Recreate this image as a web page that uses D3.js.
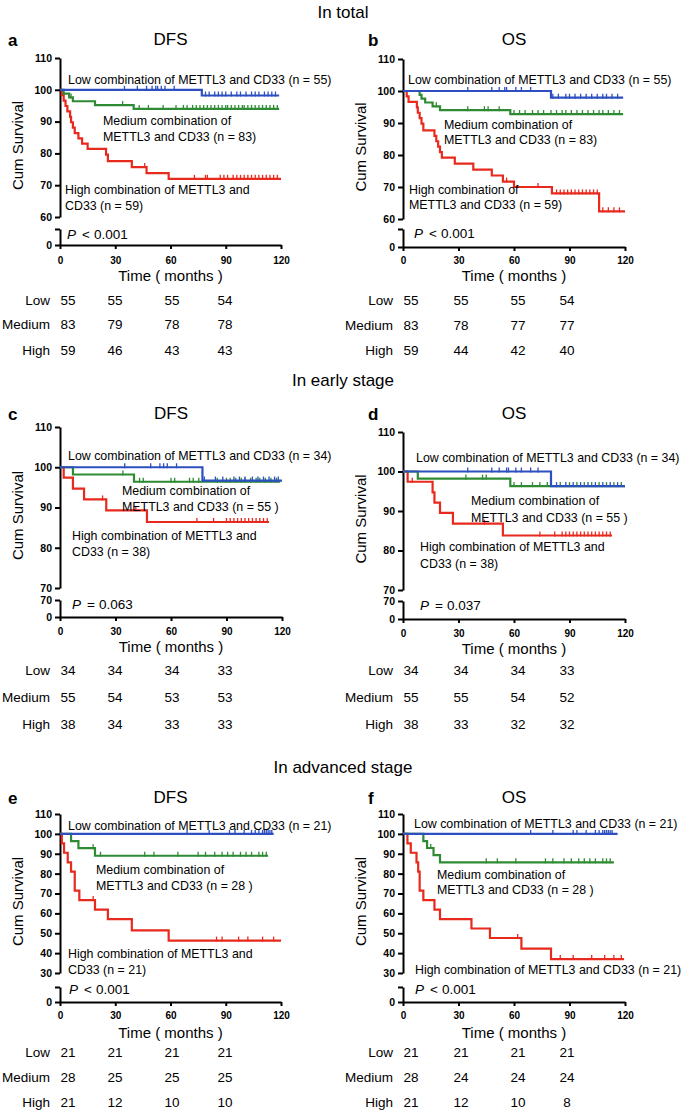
<!DOCTYPE html>
<html><head><meta charset="utf-8">
<script src="https://cdn.jsdelivr.net/npm/d3@7"></script>
<style>
body{margin:0;background:#fff}
svg{display:block}
text{font-family:"Liberation Sans",Arial,Helvetica,sans-serif;fill:#000}
</style>
</head><body>
<svg id="chart" width="685" height="1113"></svg>
<script>
// ---------------- DATA ----------------
const groups = ["Low", "Medium", "High"];
const xTickValues = [0, 30, 60, 90, 120];
const riskTimes = [0, 30, 60, 90];
const sectionTitles = ["In total", "In early stage", "In advanced stage"];
const panelLetters = ["a", "b", "c", "d", "e", "f"];
const panelTitles = ["DFS", "OS", "DFS", "OS", "DFS", "OS"];
const pTexts = [["<", "0.001"], ["<", "0.001"], ["=", "0.063"], ["=", "0.037"], ["<", "0.001"], ["<", "0.001"]];
const yTicksTotal = [60, 70, 80, 90, 100, 110];
const yTicksEarly = [70, 80, 90, 100, 110];
const yTicksAdv = [30, 40, 50, 60, 70, 80, 90, 100, 110];

// Panel a: DFS in total  (steps: [month, cum survival %])
const aLow = [[0,100],[77,98.2]];
const aMed = [[0,100],[2,98.8],[5,97.6],[7,96.4],[19,95.2],[40,94.0]];
const aHigh = [[0,100],[1,98.3],[2,96.6],[3,94.9],[4,93.2],[5.5,91.5],[6,89.8],[7,88.1],[8,86.4],[10,84.7],[12,83.1],[15,81.4],[25,79.6],[26,77.6],[39,75.7],[47,73.8],[59,72.0]];
const aEnd = [119, 119, 120];
const aLowCens = [35,42,47,50,52,53,55,57,62,79,81,84,86,88,90,93,96,98,101,104,106,108,111,113,115,117];
const aMedCens = [6,19,34,43,48,56,63,67,69,72,74,76,78,80,82,84,86,88,90,91,93,95,97,99,100,102,104,106,108,110,112,114,116,118];
const aHighCens = [46,73,79,80,87,89,91,94,96,98,100,102,104,106,108,110,112,114,116,118];
const aRisk = [[55,55,55,54],[83,79,78,78],[59,46,43,43]];

// Panel b: OS in total
const bLow = [[0,100],[80,97.9]];
const bMed = [[0,100],[9,98.8],[10,97.6],[12,96.4],[16,95.2],[20,94.0],[58,92.8]];
const bHigh = [[0,100],[2,98.3],[3,96.6],[7.5,94.9],[8,93.2],[9,91.5],[10,89.8],[11,87.7],[17,86.0],[18,84.3],[19,82.6],[20,80.9],[21,79.2],[28,77.3],[38,75.4],[48,73.6],[54,71.7],[60,70.0],[80.5,68.0],[106,62.4]];
const bEnd = [119, 119, 120];
const bLowCens = [35,48,52,55,56,61,64,69,81,84,88,90,93,96,99,102,105,108,110,113,116];
const bMedCens = [18,35,44,46,52,60,63,66,70,73,76,80,83,86,88,91,94,97,100,103,106,108,111,114,117];
const bHighCens = [56,73,83,85,87,89,91,93,95,97,99,101,103,105,108,111,114,117];
const bRisk = [[55,55,55,54],[83,78,77,77],[59,44,42,40]];

// Panel c: DFS in early stage
const cLow = [[0,100],[77,96.7]];
const cMed = [[0,100],[7,98.2],[40,96.4]];
const cHigh = [[0,100],[2,97.4],[7,94.7],[13,92.0],[25,89.3],[47,86.4]];
const cEnd = [120, 119, 113];
const cLowCens = [35,49,54,56,58,63,78,84,88,94,97,100,104,107,110,113,116,118];
const cMedCens = [34,43,45,60,62,70,72,75,85,90,92,95,98,100,103,106,108,111,114,117];
const cHighCens = [23,41,74,83,90,92,94,96,98,100,102,104,106,108,110,112];
const cRisk = [[34,34,34,33],[55,54,53,53],[38,34,33,33]];

// Panel d: OS in early stage
const dLow = [[0,100],[80,96.3]];
const dMed = [[0,100],[8,98.2],[58,96.3]];
const dHigh = [[0,100],[2.5,97.4],[16,94.7],[17,92.1],[20,89.5],[27,86.8],[54,83.8]];
const dEnd = [120, 120, 113];
const dLowCens = [35,48,52,56,57,61,64,69,73,83,88,92,96,100,104,108,112,116];
const dMedCens = [34,43,45,60,64,70,74,78,85,90,94,98,102,106,110,114,118];
const dHighCens = [5,44,74,82,86,88,90,92,94,96,98,100,102,104,106,108,110,112];
const dRisk = [[34,34,34,33],[55,55,54,52],[38,33,32,32]];

// Panel e: DFS in advanced stage
const eLow = [[0,100]];
const eMed = [[0,100],[6,96.4],[10,92.8],[19,89.0]];
const eHigh = [[0,100],[1,95.2],[2.2,90.5],[4.2,85.7],[6,81.0],[8,71.4],[10.5,66.7],[19,61.9],[26,57.1],[39,51.4],[59,46.3]];
const eEnd = [116, 113, 120];
const eLowCens = [69,81,92,95,100,104,106,108,110,111,112,113,114,115];
const eMedCens = [18,22,46,51,64,75,79,84,88,91,94,98,101,104,108,110,112];
const eHighCens = [18,85,88,97,102,110,116];
const eRisk = [[21,21,21,21],[28,25,25,25],[21,12,10,10]];

// Panel f: OS in advanced stage
const fLow = [[0,100]];
const fMed = [[0,100],[11,96.4],[13,92.9],[16.5,89.3],[20,85.7]];
const fHigh = [[0,100],[2.4,95.2],[4.2,90.5],[7.3,85.7],[8.2,81.0],[9,71.4],[11,66.7],[17,61.9],[20,57.1],[37,52.4],[47,47.6],[64,42.3],[80,37.0]];
const fEnd = [116, 114, 119.5];
const fLowCens = [69,81,92,94,99,104,106,108,109,110,111,112,113];
const fMedCens = [15,45,51,61,77,81,87,91,95,98,101,104,108,110,112];
const fHighCens = [62,85,92,102,109,114,118];
const fRisk = [[21,21,21,21],[28,24,24,24],[21,12,10,8]];

// Annotation texts
const aNotes = [["Low combination of METTL3 and CD33 (n = 55)"], ["Medium combination of", "METTL3 and CD33 (n = 83)"], ["High combination of METTL3 and", "CD33 (n = 59)"]];
const bNotes = [["Low combination of METTL3 and CD33 (n = 55)"], ["Medium combination of", "METTL3 and CD33 (n = 83)"], ["High combination of", "METTL3 and CD33 (n = 59)"]];
const cNotes = [["Low combination of METTL3 and CD33 (n = 34)"], ["Medium combination of", "METTL3 and CD33 (n = 55 )"], ["High combination of METTL3 and", "CD33 (n = 38)"]];
const dNotes = [["Low combination of METTL3 and CD33 (n = 34)"], ["Medium combination of", "METTL3 and CD33 (n = 55 )"], ["High combination of METTL3 and", "CD33 (n = 38)"]];
const eNotes = [["Low combination of METTL3 and CD33 (n = 21)"], ["Medium combination of", "METTL3 and CD33 (n = 28 )"], ["High combination of METTL3 and", "CD33 (n = 21)"]];
const fNotes = [["Low combination of METTL3 and CD33 (n = 21)"], ["Medium combination of", "METTL3 and CD33 (n = 28 )"], ["High combination of METTL3 and CD33 (n = 21)"]];

// ---------------- LAYOUT ----------------
const colors = ["#2d4fbf", "#2e8b33", "#e8291d"];
const layout = [
  {x0:60, x1:281, yTop:58, yMinPos:217, breakTop:229, y0:245, titleY:45, tickLab:264, timeY:281, rows:[305,329,355], cols:[8,55,112,165],
   notes:[[68,84],[103,125],[65,194]], lh:16, pPos:[67,239], yMin:60, yTicks:yTicksTotal, breakLabel:false},
  {x0:403, x1:625, yTop:59, yMinPos:219, breakTop:229, y0:247, titleY:45, tickLab:264, timeY:281, rows:[305,330,355], cols:[8,58,115,164],
   notes:[[408,84],[444,129],[409,194]], lh:15, pPos:[414,238], yMin:60, yTicks:yTicksTotal, breakLabel:false},
  {x0:60, x1:282, yTop:427, yMinPos:588, breakTop:600, y0:617, titleY:419, tickLab:635, timeY:652, rows:[675,702,729], cols:[8,55,112,165],
   notes:[[68,460],[122,495],[72,540]], lh:16, pPos:[72,609], yMin:70, yTicks:yTicksEarly, breakLabel:true},
  {x0:403, x1:625, yTop:432, yMinPos:590, breakTop:601, y0:619, titleY:419, tickLab:637, timeY:654, rows:[675,702,729], cols:[8,58,115,164],
   notes:[[416,462],[471,505],[420,551]], lh:17, pPos:[420,610], yMin:70, yTicks:yTicksEarly, breakLabel:true},
  {x0:60, x1:281, yTop:814, yMinPos:973, breakTop:987, y0:1002, titleY:803, tickLab:1019, timeY:1038, rows:[1057,1082,1107], cols:[8,55,112,165],
   notes:[[68,830],[96,874],[68,958]], lh:16, pPos:[69,994], yMin:30, yTicks:yTicksAdv, breakLabel:false},
  {x0:403, x1:625, yTop:814, yMinPos:973, breakTop:987, y0:1002, titleY:803, tickLab:1019, timeY:1038, rows:[1057,1082,1107], cols:[8,58,115,164],
   notes:[[414,828],[437,879],[415,974]], lh:15, pPos:[415,994], yMin:30, yTicks:yTicksAdv, breakLabel:false}
];
const sectionY = [18, 386, 773];
const letterX = [8, 368, 8, 368, 8, 368];

const curves = [
  [[aLow,aMed,aHigh], aEnd, [aLowCens,aMedCens,aHighCens], aRisk, aNotes],
  [[bLow,bMed,bHigh], bEnd, [bLowCens,bMedCens,bHighCens], bRisk, bNotes],
  [[cLow,cMed,cHigh], cEnd, [cLowCens,cMedCens,cHighCens], cRisk, cNotes],
  [[dLow,dMed,dHigh], dEnd, [dLowCens,dMedCens,dHighCens], dRisk, dNotes],
  [[eLow,eMed,eHigh], eEnd, [eLowCens,eMedCens,eHighCens], eRisk, eNotes],
  [[fLow,fMed,fHigh], fEnd, [fLowCens,fMedCens,fHighCens], fRisk, fNotes]
];

// ---------------- DRAW ----------------
const svg = d3.select("#chart");
svg.append("rect").attr("width",685).attr("height",1113).attr("fill","#fff");

svg.selectAll("text.section").data(sectionTitles).enter().append("text")
  .attr("class","section").attr("x",343).attr("y",(d,i)=>sectionY[i])
  .attr("text-anchor","middle").attr("font-size",17).text(d=>d);

function styleAxis(g, fs){
  g.select(".domain").attr("stroke","#000").attr("stroke-width",2);
  g.selectAll(".tick line").attr("stroke","#000").attr("stroke-width",2);
  g.selectAll(".tick text").attr("font-size",fs).attr("font-weight","bold")
   .attr("font-family","'Liberation Sans',Arial,sans-serif").attr("fill","#000");
}

function survAt(steps, t){
  let s = steps[0][1];
  for (const [tt, v] of steps) { if (tt <= t) s = v; }
  return s;
}

layout.forEach((L, pi) => {
  const [stepSets, ends, cens, risk, notes] = curves[pi];
  const g = svg.append("g");
  const x = d3.scaleLinear().domain([0,120]).range([L.x0, L.x1]);
  const y = d3.scaleLinear().domain([L.yMin,110]).range([L.yMinPos, L.yTop]);
  const yLow = d3.scaleLinear().domain([0, L.yMin]).range([L.y0, L.breakTop]);

  // letter & title
  g.append("text").attr("x",letterX[pi]).attr("y",L.titleY+1).attr("font-size",17).attr("font-weight","bold").text(panelLetters[pi]);
  g.append("text").attr("x",(L.x0+L.x1)/2).attr("y",L.titleY).attr("text-anchor","middle").attr("font-size",17).text(panelTitles[pi]);

  // upper y axis
  const ya = g.append("g").attr("transform",`translate(${L.x0},0)`)
    .call(d3.axisLeft(y).tickValues(L.yTicks).tickSize(5).tickSizeOuter(0).tickPadding(3).tickFormat(d3.format("d")));
  styleAxis(ya, 10.5);
  // lower y axis (break)
  const yl = g.append("g").attr("transform",`translate(${L.x0},0)`)
    .call(d3.axisLeft(yLow).tickValues([0, L.yMin]).tickSize(5).tickSizeOuter(0).tickPadding(3)
      .tickFormat(d => d === 0 ? "0" : (L.breakLabel ? String(d) : "")));
  styleAxis(yl, 10.5);
  // x axis
  const xa = g.append("g").attr("transform",`translate(0,${L.y0})`)
    .call(d3.axisBottom(x).tickValues(xTickValues).tickSize(4).tickSizeOuter(0).tickPadding(5).tickFormat(d3.format("d")));
  styleAxis(xa, 10);
  xa.selectAll(".tick text").attr("dy",null).attr("y",null);
  xa.selectAll(".tick text").attr("transform",null).attr("y", L.tickLab - L.y0);

  // axis titles
  g.append("text").attr("transform",`translate(${L.x0-37},${(L.yTop+L.yMinPos)/2+8}) rotate(-90)`)
    .attr("text-anchor","middle").attr("font-size",15).text("Cum Survival");
  g.append("text").attr("x",(L.x0+L.x1)/2).attr("y",L.timeY).attr("text-anchor","middle").attr("font-size",15).text("Time ( months )");

  // curves
  const line = d3.line().x(d=>x(d[0])).y(d=>y(d[1])).curve(d3.curveStepAfter);
  [2,1,0].forEach(gi => {
    const steps = stepSets[gi];
    const pts = steps.concat([[ends[gi], steps[steps.length-1][1]]]);
    g.append("path").attr("d",line(pts)).attr("fill","none").attr("stroke",colors[gi]).attr("stroke-width",2.2);
    g.selectAll(null).data(cens[gi]).enter().append("line")
      .attr("x1",d=>x(d)).attr("x2",d=>x(d))
      .attr("y1",d=>y(survAt(steps,d))-4).attr("y2",d=>y(survAt(steps,d))+1)
      .attr("stroke",colors[gi]).attr("stroke-width",1.3);
  });

  // notes
  notes.forEach((lines, gi) => {
    const t = g.append("text").attr("x",L.notes[gi][0]).attr("y",L.notes[gi][1]).attr("font-size",12.4);
    lines.forEach((s, li) => t.append("tspan").attr("x",L.notes[gi][0]).attr("dy", li ? L.lh : 0).text(s));
  });

  // P value
  const pt = g.append("text").attr("x",L.pPos[0]).attr("y",L.pPos[1]).attr("font-size",13.5);
  pt.append("tspan").attr("font-style","italic").text("P");
  pt.append("tspan").attr("dx",6).text(pTexts[pi][0]);
  pt.append("tspan").attr("dx",4).text(pTexts[pi][1]);

  // risk table
  groups.forEach((gname, gi) => {
    g.append("text").attr("x",L.x0-10).attr("y",L.rows[gi]).attr("text-anchor","end").attr("font-size",13.5).text(gname);
    risk[gi].forEach((v, j) => {
      g.append("text").attr("x",L.x0+L.cols[j]).attr("y",L.rows[gi]).attr("text-anchor","middle").attr("font-size",13.5).text(v);
    });
  });
});
</script>
</body></html>
